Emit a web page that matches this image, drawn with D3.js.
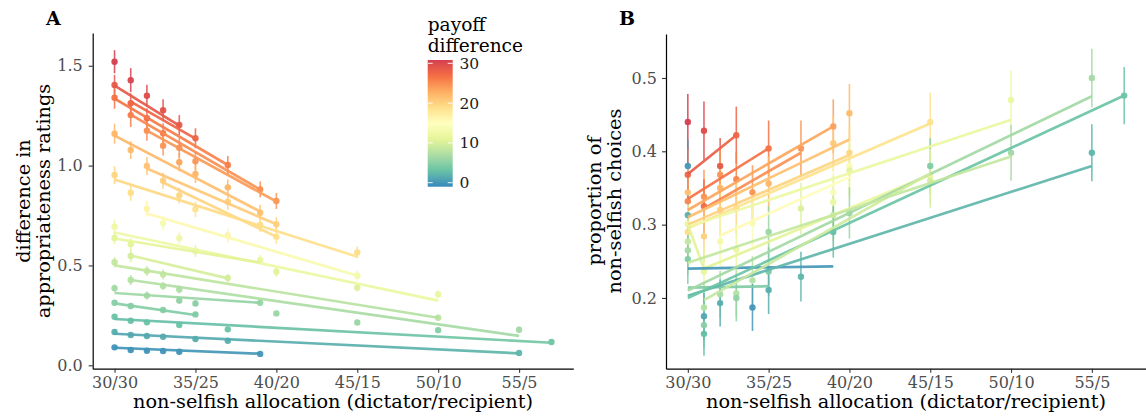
<!DOCTYPE html>
<html><head><meta charset="utf-8">
<script src="https://cdn.jsdelivr.net/npm/d3@7"></script>
<style>
body{margin:0;background:#fff}
svg{display:block}
text{font-family:"DejaVu Serif",serif}
</style>
</head><body>
<svg id="chart" width="1146" height="419"></svg>
<script>
// ---------- data ----------
const xTickValues = [30, 35, 40, 45, 50, 55];
const xTickLabels = ["30/30", "35/25", "40/20", "45/15", "50/10", "55/5"];
const yTicksA = [0, 0.5, 1.0, 1.5];
const yTicksB = [0.2, 0.3, 0.4, 0.5];
const legendTicks = [0, 10, 20, 30];
const paletteStops = [0, 3.75, 7.5, 11.25, 15, 18.75, 22.5, 26.25, 30];
const paletteColors = ["#3288BD", "#66C2A5", "#ABDDA4", "#E6F598", "#FFFFBF", "#FEE08B", "#FDAE61", "#F46D43", "#D53E4F"];

// panel A points: [dictator payoff, rating difference, error, payoff difference]
const pointsA = [
  [30,1.52,.058,30],[30,1.404,.05,28],[30,1.34,.055,26],[30,1.16,.05,22],[30,0.953,.045,19.5],[30,0.694,.035,12.5],[30,0.638,.03,11],[30,0.516,.025,9],[30,0.386,.018,7],[30,0.313,.012,5.5],[30,0.243,.01,4],[30,0.167,.008,2.5],[30,0.09,.007,0.7],
  [31,1.428,.06,29.5],[31,1.312,.05,27],[31,1.253,.06,25.5],[31,1.078,.045,21.5],[31,0.864,.04,19],[31,0.607,.03,11],[31,0.547,.03,10],[31,0.427,.025,8],[31,0.297,.015,5.5],[31,0.223,.01,4],[31,0.152,.008,2.5],[31,0.077,.006,0.7],
  [32,1.35,.055,29],[32,1.237,.05,26.5],[32,1.175,.05,24.5],[32,0.998,.045,21],[32,0.784,.04,16.5],[32,0.472,.025,9],[32,0.349,.02,7],[32,0.215,.01,4],[32,0.147,.008,2.5],[32,0.073,.006,0.7],
  [33,1.277,.055,28.5],[33,1.162,.05,25.5],[33,1.10,.05,24],[33,0.924,.04,20],[33,0.711,.035,13.5],[33,0.455,.025,9],[33,0.397,.02,8],[33,0.277,.012,5.5],[33,0.143,.008,2.5],[33,0.072,.006,0.7],
  [34,1.203,.05,28],[34,1.09,.05,24.5],[34,1.017,.045,23],[34,0.85,.04,19.5],[34,0.636,.03,12.5],[34,0.38,.02,7.5],[34,0.324,.015,6],[34,0.202,.01,4],[34,0.068,.006,0.7],
  [35,1.137,.05,27],[35,1.022,.045,24],[35,0.958,.045,22],[35,0.782,.04,18.5],[35,0.572,.03,11],[35,0.31,.015,5.5],[35,0.255,.012,5],[35,0.132,.008,2.5],
  [37,1.003,.045,25.5],[37,0.891,.04,22],[37,0.819,.04,20],[37,0.65,.035,16.5],[37,0.437,.02,10],[37,0.18,.01,4],[37,0.123,.008,2.5],
  [39,0.881,.04,24.5],[39,0.764,.04,21],[39,0.703,.035,19],[39,0.527,.025,12],[39,0.313,.015,6.5],[39,0.057,.006,1],
  [40,0.823,.04,24],[40,0.706,.035,20],[40,0.644,.035,18.5],[40,0.469,.025,11],[40,0.26,.012,6.5],
  [45,0.565,.03,19],[45,0.449,.025,13],[45,0.389,.02,10.5],[45,0.214,.01,6.5],
  [50,0.355,.02,12],[50,0.238,.012,8.5],[50,0.176,.01,5.5],
  [55,0.178,.015,7],[55,0.062,.005,3],
  [57,0.117,.006,4]
];

// panel A fitted lines: vertices [dictator payoff, fitted value, payoff difference]
const linesA = [
  [[30,1.40,28],[34,1.20,28]],
  [[31,1.32,27],[35,1.135,27]],
  [[30,1.335,26],[37,1.003,25]],
  [[31,1.255,25],[39,0.88,24]],
  [[32,1.175,24],[40,0.82,23.5]],
  [[30,1.15,22],[39,0.77,21]],
  [[32,0.985,21],[40,0.706,20]],
  [[33,0.915,20],[40,0.644,19]],
  [[30,0.93,19.5],[45,0.544,18.5]],
  [[32,0.76,16],[45,0.449,13.5]],
  [[30,0.665,12.5],[50,0.324,12]],
  [[30,0.635,11.5],[39,0.515,11]],
  [[31,0.55,10.5],[37,0.435,10]],
  [[30,0.50,9],[50,0.238,8]],
  [[31,0.427,8],[55,0.147,7]],
  [[30,0.362,7],[39,0.313,6]],
  [[30,0.31,5.5],[35,0.252,5]],
  [[30,0.232,3.5],[57,0.113,4.5]],
  [[30,0.158,2],[55,0.06,3]],
  [[30,0.088,0.7],[39,0.058,1]]
];

// panel B points: [dictator payoff, proportion non-selfish, error, payoff difference]
const pointsB = [
  [30,0.44,.038,30],[30,0.38,.036,1],[30,0.368,.037,27],[30,0.344,.036,21],[30,0.332,.036,25],[30,0.313,.035,2.5],[30,0.301,.035,12],[30,0.29,.035,19],[30,0.277,.034,9],[30,0.265,.034,7],[30,0.253,.034,5],
  [31,0.428,.04,29],[31,0.338,.037,24],[31,0.325,.037,26.5],[31,0.284,.035,20],[31,0.236,.034,11.5],[31,0.187,.032,8],[31,0.175,.032,2],[31,0.163,.031,5.5],[31,0.151,.03,3.5],
  [32,0.38,.038,28],[32,0.368,.037,24],[32,0.35,.036,22],[32,0.32,.035,20],[32,0.277,.034,13],[32,0.205,.032,7.5],[32,0.193,.032,2.5],
  [33,0.422,.039,27],[33,0.362,.037,25],[33,0.322,.035,19.5],[33,0.266,.034,12],[33,0.206,.032,8],[33,0.20,.032,6],
  [34,0.344,.037,24],[34,0.302,.035,14],[34,0.224,.033,8],[34,0.187,.032,1],
  [35,0.404,.038,26],[35,0.356,.037,22],[35,0.29,.035,6.5],[35,0.236,.033,5],[35,0.211,.033,2.5],
  [37,0.404,.038,24],[37,0.322,.035,10.5],[37,0.229,.034,3],
  [39,0.434,.037,23.5],[39,0.411,.038,20.5],[39,0.344,.036,14],[39,0.331,.036,12],[39,0.313,.035,9],[39,0.29,.035,3.5],
  [40,0.452,.04,21.5],[40,0.398,.038,19.5],[40,0.38,.037,14],[40,0.374,.037,11],[40,0.316,.035,6.5],
  [45,0.44,.04,18.5],[45,0.38,.038,5],[45,0.366,.037,12],[45,0.36,.037,10],
  [50,0.47,.04,12],[50,0.398,.038,7],
  [55,0.50,.04,7],[55,0.398,.039,3],
  [57,0.476,.039,4]
];

// panel B fitted lines
const linesB = [
  [[30,0.369,28],[33,0.422,27]],
  [[30,0.335,26],[35,0.404,26]],
  [[31,0.322,25],[37,0.398,24]],
  [[30,0.32,23],[39,0.434,23]],
  [[30,0.31,21.5],[40,0.416,21]],
  [[30,0.30,20],[40,0.395,19.5]],
  [[30,0.295,18.5],[45,0.438,18.5]],
  [[30,0.297,12.5],[50,0.443,12]],
  [[30,0.30,11],[31,0.24,11],[45,0.368,12]],
  [[32,0.285,16],[40,0.365,15]],
  [[30,0.24,1],[39,0.243,1]],
  [[30,0.214,5],[35,0.216,5]],
  [[30,0.21,7],[55,0.475,7]],
  [[30,0.203,3],[55,0.38,3]],
  [[30,0.20,4],[57,0.476,4]],
  [[31,0.197,9],[45,0.37,10]],
  [[30,0.248,9],[50,0.393,9]]
];

// ---------- drawing ----------
const svg = d3.select("#chart");
const defs = svg.append("defs");
const color = d3.scaleLinear().domain(paletteStops).range(paletteColors).interpolate(d3.interpolateLab);

const xA = d3.scaleLinear().domain([28.65, 58.35]).range([92.7, 573.3]);
const yA = d3.scaleLinear().domain([-0.017, 1.664]).range([368.7, 33]);
const xB = d3.scaleLinear().domain([28.65, 58.35]).range([666, 1146]);
const yB = d3.scaleLinear().domain([0.1035, 0.560]).range([368.7, 34]);

let gradId = 0;
function drawPanel(g, x, y, pts, lines, yTicks, yFmt, yPad) {
  // error bars
  g.append("g").selectAll("line").data(pts).join("line")
    .attr("x1", d => x(d[0])).attr("x2", d => x(d[0]))
    .attr("y1", d => y(d[1] - d[2])).attr("y2", d => y(d[1] + d[2]))
    .attr("stroke", d => color(d[3])).attr("stroke-width", 1.6).attr("stroke-opacity", 0.85);
  // points
  g.append("g").selectAll("circle").data(pts).join("circle")
    .attr("cx", d => x(d[0])).attr("cy", d => y(d[1])).attr("r", 3.2)
    .attr("fill", d => color(d[3])).attr("fill-opacity", 0.95);
  // lines with colour gradient along them
  const lineGen = d3.line().x(d => x(d[0])).y(d => y(d[1]));
  lines.forEach(L => {
    const id = "lg" + (gradId++);
    const x0 = x(L[0][0]), x1 = x(L[L.length - 1][0]);
    const gr = defs.append("linearGradient").attr("id", id)
      .attr("gradientUnits", "userSpaceOnUse")
      .attr("x1", x0).attr("x2", x1).attr("y1", 0).attr("y2", 0);
    L.forEach(v => gr.append("stop").attr("offset", (x(v[0]) - x0) / (x1 - x0)).attr("stop-color", color(v[2])));
    g.append("path").attr("d", lineGen(L)).attr("fill", "none")
      .attr("stroke", `url(#${id})`).attr("stroke-width", 2.7).attr("stroke-opacity", 0.92)
      .attr("stroke-linecap", "butt");
  });
  // axes
  const ax = g.append("g").attr("transform", `translate(0,${y.range()[0]})`)
    .call(d3.axisBottom(x).tickValues(xTickValues).tickFormat((d, i) => xTickLabels[i]).tickSize(4).tickSizeOuter(0).tickPadding(4));
  const ay = g.append("g").attr("transform", `translate(${x.range()[0]},0)`)
    .call(d3.axisLeft(y).tickValues(yTicks).tickFormat(yFmt).tickSize(4).tickSizeOuter(0).tickPadding(yPad));
  [ax, ay].forEach(a => {
    a.select(".domain").attr("stroke", "#000").attr("stroke-width", 1.2);
    a.selectAll(".tick line").attr("stroke", "#333").attr("stroke-width", 1.1);
    a.selectAll(".tick text").attr("fill", "#4d4d4d").style("font-size", "16px").style("font-family", '"DejaVu Serif",serif');
  });
}

const gA = svg.append("g");
drawPanel(gA, xA, yA, pointsA, linesA, yTicksA, d3.format(".1f"), 6);
const gB = svg.append("g");
drawPanel(gB, xB, yB, pointsB, linesB, yTicksB, d3.format(".1f"), 5);

// titles
const titleSize = 19.3;
function txt(xp, yp, s, opts = {}) {
  const t = svg.append("text").attr("x", xp).attr("y", yp).text(s)
    .style("font-size", (opts.size || titleSize) + "px").attr("fill", opts.fill || "#000");
  if (opts.anchor) t.attr("text-anchor", opts.anchor);
  if (opts.weight) t.style("font-weight", opts.weight);
  if (opts.rot) t.attr("transform", `rotate(-90,${xp},${yp})`);
  return t;
}
txt(333, 408, "non-selfish allocation (dictator/recipient)", {anchor: "middle"});
txt(906, 408, "non-selfish allocation (dictator/recipient)", {anchor: "middle"});
txt(30, 201, "difference in", {anchor: "middle", rot: true});
txt(50, 201, "appropriateness ratings", {anchor: "middle", rot: true});
txt(601, 201, "proportion of", {anchor: "middle", rot: true});
txt(621, 201, "non-selfish choices", {anchor: "middle", rot: true});
txt(46, 25, "A", {weight: "bold", size: 19});
txt(619, 25, "B", {weight: "bold", size: 19});

// legend
const legY = d3.scaleLinear().domain([0, 30]).range([182.7, 63.3]);
const lg = defs.append("linearGradient").attr("id", "legGrad")
  .attr("x1", 0).attr("x2", 0).attr("y1", 1).attr("y2", 0);
d3.range(0, 31, 1).forEach(v => lg.append("stop").attr("offset", v / 30).attr("stop-color", color(v)));
const legX = 427.7, legW = 25;
svg.append("rect").attr("x", legX).attr("y", legY(30) - 3.3).attr("width", legW)
  .attr("height", legY(0) - legY(30) + 7.3).attr("fill", "url(#legGrad)");
const legG = svg.append("g");
legG.selectAll("line.l").data(legendTicks).join("line").attr("class", "l")
  .attr("x1", legX).attr("x2", legX + 5).attr("y1", d => legY(d)).attr("y2", d => legY(d))
  .attr("stroke", "#fff").attr("stroke-width", 1).attr("stroke-opacity", 0.9);
legG.selectAll("line.r").data(legendTicks).join("line").attr("class", "r")
  .attr("x1", legX + legW - 5).attr("x2", legX + legW).attr("y1", d => legY(d)).attr("y2", d => legY(d))
  .attr("stroke", "#fff").attr("stroke-width", 1).attr("stroke-opacity", 0.9);
legG.selectAll("text").data(legendTicks).join("text")
  .attr("x", 459.5).attr("y", d => legY(d)).attr("dy", "0.36em")
  .style("font-size", "15.5px").attr("fill", "#1a1a1a").text(d => d);
txt(427.7, 31, "payoff", {size: 18.6});
txt(427.7, 52, "difference", {size: 18.6});
</script>
</body></html>
